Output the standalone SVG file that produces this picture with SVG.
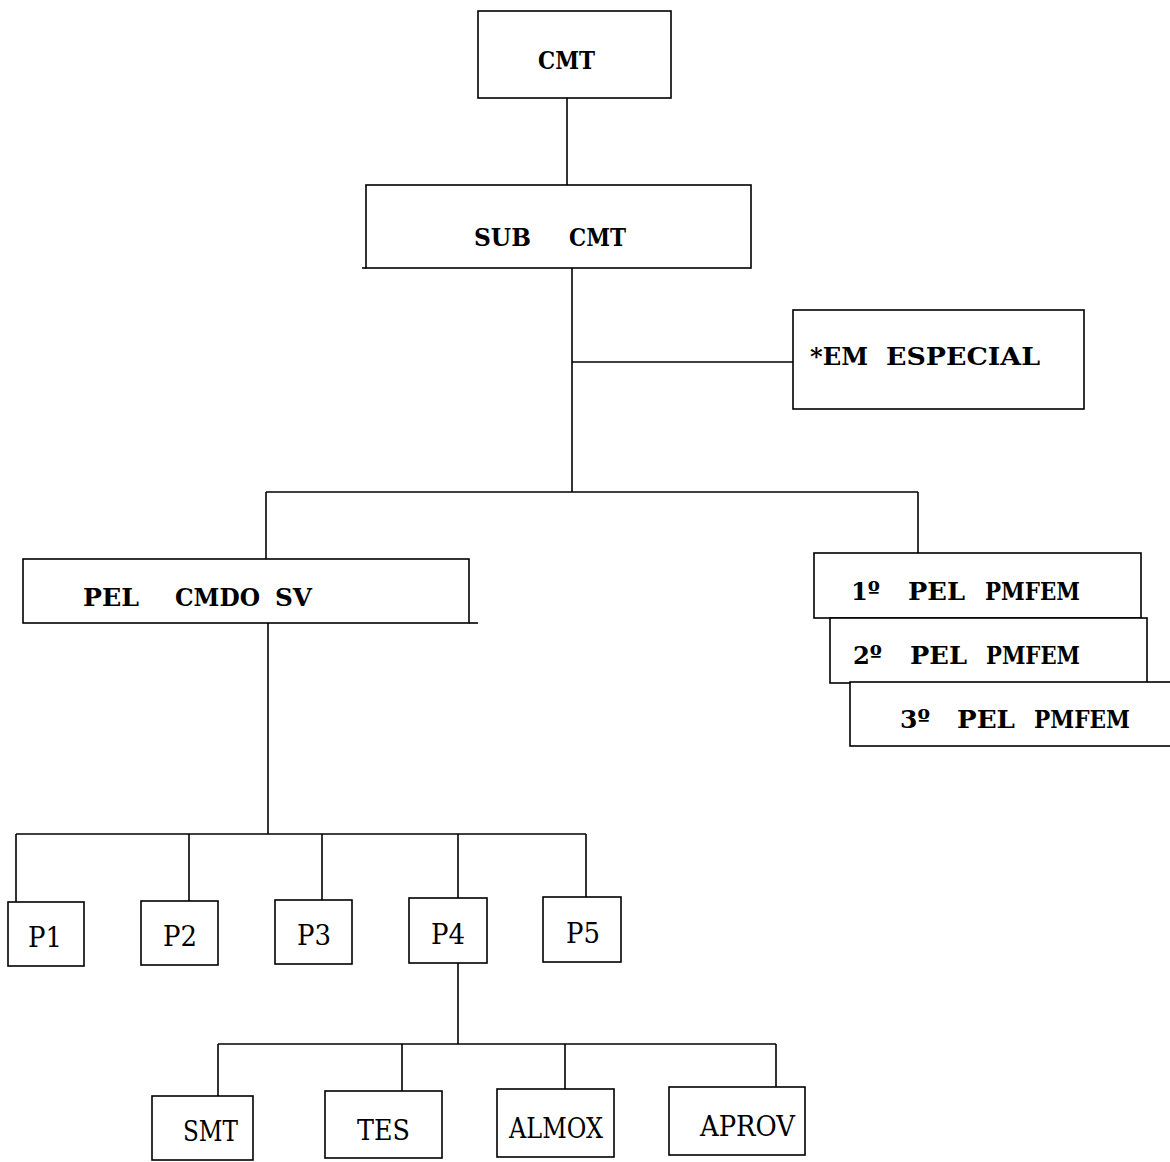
<svg xmlns="http://www.w3.org/2000/svg" width="1170" height="1162" viewBox="0 0 1170 1162">
<style>
.box{fill:#fff;stroke:#000;stroke-width:1.6}
.ln{stroke:#000;stroke-width:1.6;fill:none}
.b{font-family:"DejaVu Serif","Liberation Serif",serif;font-weight:bold;font-size:25px;fill:#000}
.r{font-family:"DejaVu Serif","Liberation Serif",serif;font-size:27px;fill:#000}
</style>
<rect width="1170" height="1162" fill="#fff"/>
<g id="connectors">
<path class="ln" d="M567 98V185"/>
<path class="ln" d="M572 268V492"/>
<path class="ln" d="M572 362H793"/>
<path class="ln" d="M266 492H918"/>
<path class="ln" d="M266 492V559"/>
<path class="ln" d="M918 492V553"/>
<path class="ln" d="M268 623V834"/>
<path class="ln" d="M16 834H586"/>
<path class="ln" d="M16 834V902M189 834V901M322 834V900M458 834V898M586 834V897"/>
<path class="ln" d="M458 963V1044"/>
<path class="ln" d="M218 1044H776"/>
<path class="ln" d="M218 1044V1096M402 1044V1091M565 1044V1089M776 1044V1087"/>
</g>
<g id="cmt"><rect class="box" x="478" y="11" width="193" height="87"/><text class="b" x="538" y="69" textLength="57" lengthAdjust="spacingAndGlyphs">CMT</text></g>
<g id="subcmt"><rect class="box" x="366" y="185" width="385" height="83"/><path class="ln" d="M362 268H366"/><text class="b" x="474" y="246" textLength="57" lengthAdjust="spacingAndGlyphs">SUB</text><text class="b" x="569" y="246" textLength="57" lengthAdjust="spacingAndGlyphs">CMT</text></g>
<g id="emespecial"><rect class="box" x="793" y="310" width="291" height="99"/><text class="b" x="810" y="365" textLength="58" lengthAdjust="spacingAndGlyphs">*EM</text><text class="b" x="886" y="365" textLength="154" lengthAdjust="spacingAndGlyphs">ESPECIAL</text></g>
<g id="pelcmdosv"><rect class="box" x="23" y="559" width="446" height="64"/><path class="ln" d="M469 623H478"/><text class="b" x="83" y="606" textLength="56" lengthAdjust="spacingAndGlyphs">PEL</text><text class="b" x="175" y="606" textLength="85" lengthAdjust="spacingAndGlyphs">CMDO</text><text class="b" x="275" y="606" textLength="37" lengthAdjust="spacingAndGlyphs">SV</text></g>
<g id="pel1"><rect class="box" x="814" y="553" width="327" height="65"/><text class="b" y="600"><tspan x="851" textLength="29" lengthAdjust="spacingAndGlyphs">1º</tspan><tspan x="908" textLength="57" lengthAdjust="spacingAndGlyphs">PEL</tspan><tspan x="985" textLength="95" lengthAdjust="spacingAndGlyphs">PMFEM</tspan></text></g>
<g id="pel2"><rect class="box" x="830" y="618" width="317" height="65"/><text class="b" y="664"><tspan x="853" textLength="29" lengthAdjust="spacingAndGlyphs">2º</tspan><tspan x="910" textLength="57" lengthAdjust="spacingAndGlyphs">PEL</tspan><tspan x="986" textLength="94" lengthAdjust="spacingAndGlyphs">PMFEM</tspan></text></g>
<g id="pel3"><rect class="box" x="850" y="682" width="330" height="64"/><text class="b" y="728"><tspan x="900" textLength="30" lengthAdjust="spacingAndGlyphs">3º</tspan><tspan x="957" textLength="58" lengthAdjust="spacingAndGlyphs">PEL</tspan><tspan x="1034" textLength="96" lengthAdjust="spacingAndGlyphs">PMFEM</tspan></text></g>
<g id="p1"><rect class="box" x="8" y="902" width="76" height="64"/><text class="r" x="28" y="947" textLength="34" lengthAdjust="spacingAndGlyphs">P1</text></g>
<g id="p2"><rect class="box" x="141" y="901" width="77" height="64"/><text class="r" x="163" y="946" textLength="34" lengthAdjust="spacingAndGlyphs">P2</text></g>
<g id="p3"><rect class="box" x="275" y="900" width="77" height="64"/><text class="r" x="297" y="945" textLength="34" lengthAdjust="spacingAndGlyphs">P3</text></g>
<g id="p4"><rect class="box" x="409" y="898" width="78" height="65"/><text class="r" x="431" y="944" textLength="34" lengthAdjust="spacingAndGlyphs">P4</text></g>
<g id="p5"><rect class="box" x="543" y="897" width="78" height="65"/><text class="r" x="566" y="943" textLength="34" lengthAdjust="spacingAndGlyphs">P5</text></g>
<g id="smt"><rect class="box" x="152" y="1096" width="101" height="64"/><text class="r" x="183" y="1141" textLength="55" lengthAdjust="spacingAndGlyphs">SMT</text></g>
<g id="tes"><rect class="box" x="325" y="1091" width="117" height="67"/><text class="r" x="357" y="1140" textLength="53" lengthAdjust="spacingAndGlyphs">TES</text></g>
<g id="almox"><rect class="box" x="497" y="1089" width="117" height="68"/><text class="r" x="509" y="1138" textLength="94" lengthAdjust="spacingAndGlyphs">ALMOX</text></g>
<g id="aprov"><rect class="box" x="669" y="1087" width="136" height="68"/><text class="r" x="700" y="1136" textLength="95" lengthAdjust="spacingAndGlyphs">APROV</text></g>
</svg>
